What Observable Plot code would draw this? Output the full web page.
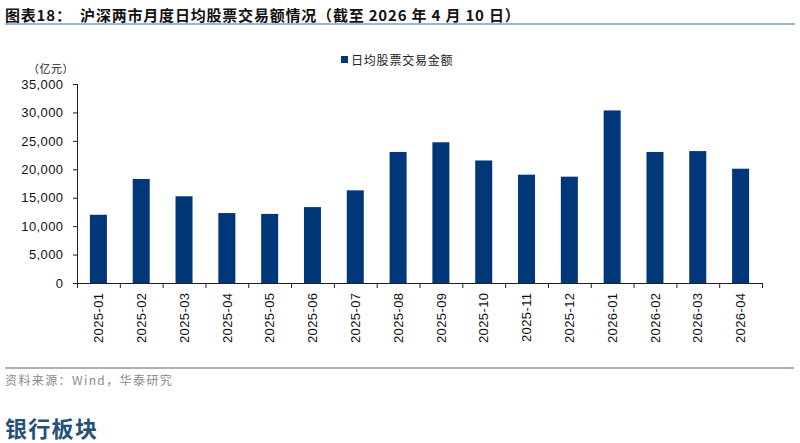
<!DOCTYPE html>
<html>
<head>
<meta charset="utf-8">
<script src="https://cdn.jsdelivr.net/npm/d3@7"></script>
<script src="https://cdn.jsdelivr.net/npm/@observablehq/plot@0.6"></script>
<style>
  html, body { margin: 0; padding: 0; background: #fff; }
  #wrap { position: relative; width: 800px; height: 443px; overflow: hidden; font-family: "Liberation Sans", Arial, sans-serif; }
  .abs { position: absolute; white-space: nowrap; }
  #title { left: 5px; top: 4px; font: bold 15px "Noto Sans CJK SC", sans-serif; color: #111; letter-spacing: 0.8px; }
  #topline { left: 5px; top: 23px; width: 790px; height: 0; border-top: 2px solid #9fb6d2; }
  #botline { left: 5px; top: 367px; width: 789px; height: 0; border-top: 2px solid #a7b2bf; }
  #source { left: 5px; top: 371px; font: 12px "Noto Sans CJK SC", sans-serif; color: #8a8a8a; letter-spacing: 1.4px; }
  #section { left: 5px; top: 416px; font: bold 22px "Noto Sans CJK SC", sans-serif; line-height: 23px; color: #24507a; letter-spacing: 1.3px; }
  #unit { left: 28px; top: 60px; font: 11px "Noto Sans CJK SC", sans-serif; color: #222; letter-spacing: 0.5px; }
  #legend { left: 341px; top: 51px; font: 12px "Noto Sans CJK SC", sans-serif; color: #222; letter-spacing: 0.8px; display: flex; align-items: center; }
  #legend .sw { width: 7px; height: 7px; background: #003778; margin-right: 3px; }
  #chart { left: 0; top: 0; }
</style>
</head>
<body>
<div id="wrap">
  <div class="abs" id="chart"></div>
  <div class="abs" id="title">图表18：&nbsp;&nbsp;沪深两市月度日均股票交易额情况（截至 2026 年 4 月 10 日）</div>
  <div class="abs" id="topline"></div>
  <div class="abs" id="unit">（亿元）</div>
  <div class="abs" id="legend"><span class="sw"></span><span>日均股票交易金额</span></div>
  <div class="abs" id="botline"></div>
  <div class="abs" id="source">资料来源：Wind，华泰研究</div>
  <div class="abs" id="section">银行板块</div>
</div>
<script>
const months = ["2025-01","2025-02","2025-03","2025-04","2025-05","2025-06","2025-07","2025-08","2025-09","2025-10","2025-11","2025-12","2026-01","2026-02","2026-03","2026-04"];
const values = [12000, 18300, 15250, 12300, 12150, 13350, 16300, 23050, 24750, 21550, 19050, 18700, 30350, 23050, 23200, 20100];
const yTicks = [0, 5000, 10000, 15000, 20000, 25000, 30000, 35000];

const data = months.map((m, i) => ({month: m, i, value: values[i]}));
const n = months.length;
const boundaries = d3.range(0, n + 1);
const centers = months.map((m, i) => i + 0.5);

const chart = Plot.plot({
  width: 800,
  height: 360,
  marginLeft: 77,
  marginRight: 38,
  marginTop: 84,
  marginBottom: 77,
  style: {fontFamily: "'Liberation Sans', Arial, sans-serif", fontSize: "13px", color: "#111", background: "transparent"},
  x: {type: "linear", domain: [0, n]},
  y: {domain: [0, 35000]},
  marks: [
    Plot.rectY(data, {x1: "i", x2: d => d.i + 1, y: "value", fill: "#003778", insetLeft: 12.9, insetRight: 12.9}),
    Plot.axisY({ticks: yTicks, tickFormat: d3.format(","), tickSize: 4, tickPadding: 10, label: null, stroke: "#222", fill: "#111"}),
    Plot.axisX({ticks: boundaries, tickFormat: () => "", tickSize: 5, label: null, stroke: "#222"}),
    Plot.axisX({ticks: centers, tickFormat: (d) => months[Math.round(d - 0.5)], tickSize: 0, tickPadding: 9, tickRotate: -90, label: null, fill: "#111"}),
    Plot.ruleX([0], {y1: 0, y2: 35000, stroke: "#222"}),
    Plot.ruleY([0], {x1: 0, x2: n, stroke: "#222"})
  ]
});
chart.querySelectorAll("text").forEach(t => t.style.letterSpacing = "0.4px");
document.getElementById("chart").appendChild(chart);
</script>
</body>
</html>
